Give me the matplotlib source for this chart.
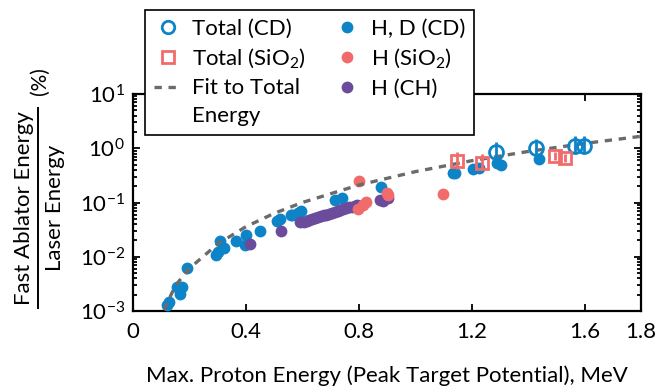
import matplotlib.pyplot as plt
import matplotlib.lines as mlines
from matplotlib.ticker import FixedLocator, LogLocator, NullFormatter
import numpy as np

plt.rcParams['font.family'] = ['Lato', 'DejaVu Sans']
plt.rcParams['mathtext.fontset'] = 'custom'
plt.rcParams['mathtext.rm'] = 'Lato'
plt.rcParams['mathtext.it'] = 'Lato:italic'
plt.rcParams['mathtext.bf'] = 'Lato:bold'

# H, D (CD) - filled blue
hd_cd_x = [0.122, 0.128, 0.155, 0.172, 0.166, 0.19, 0.294, 0.308, 0.323, 0.30, 0.365, 0.396,
           0.40, 0.45, 0.509, 0.52, 0.559, 0.562, 0.585, 0.597, 0.715, 0.739, 0.88, 1.134,
           1.14, 1.205, 1.226, 1.29, 1.305, 1.438]
hd_cd_y = [1.3e-3, 1.48e-3, 2.75e-3, 2.8e-3, 2.05e-3, 6.3e-3, 0.011, 0.0198, 0.0147, 0.012,
           0.0198, 0.0165, 0.025, 0.030, 0.046, 0.049, 0.059, 0.059, 0.065, 0.070, 0.111,
           0.119, 0.19, 0.345, 0.35, 0.41, 0.43, 0.53, 0.49, 0.63]

# H (SiO2) - filled pink
h_sio2_x = [0.80, 0.798, 0.825, 0.815, 0.90, 0.905, 1.098]
h_sio2_y = [0.25, 0.075, 0.104, 0.09, 0.148, 0.135, 0.142]

# H (CH) - filled purple
h_ch_x = [0.414, 0.526, 0.591, 0.605, 0.615, 0.625, 0.635, 0.645, 0.655, 0.665, 0.675, 0.685,
          0.695, 0.705, 0.715, 0.725, 0.735, 0.745, 0.755, 0.765, 0.775, 0.785, 0.792,
          0.874, 0.885, 0.904]
h_ch_y = [0.017, 0.030, 0.043, 0.044, 0.046, 0.048, 0.050, 0.052, 0.054, 0.056, 0.058, 0.060,
          0.062, 0.065, 0.067, 0.070, 0.072, 0.075, 0.078, 0.081, 0.084, 0.087, 0.090,
          0.111, 0.105, 0.119]

# Total (CD) - open blue circles with error bars
tot_cd_x = [1.285, 1.427, 1.565, 1.597]
tot_cd_y = [0.84, 1.0, 1.11, 1.11]
tot_cd_lo = [0.60, 0.72, 0.80, 0.80]
tot_cd_hi = [1.30, 1.50, 1.65, 1.65]

# Total (SiO2) - open pink squares with error bars
tot_sio2_x = [1.148, 1.238, 1.494, 1.529]
tot_sio2_y = [0.57, 0.53, 0.72, 0.67]
tot_sio2_lo = [0.42, 0.40, 0.60, 0.56]
tot_sio2_hi = [0.85, 0.78, 0.85, 0.80]

# Fit to total energy
fit_x = [0.11, 0.15, 0.20, 0.30, 0.40, 0.50, 0.60, 0.80, 1.00, 1.20, 1.40, 1.60, 1.80]
fit_y = [1.05e-3, 2.93e-3, 6.1e-3, 0.0172, 0.0358, 0.063, 0.10, 0.21, 0.37, 0.589, 0.872,
         1.227, 1.66]

x_ticks = [0, 0.4, 0.8, 1.2, 1.6, 1.8]
x_ticklabels = ["0", "0.4", "0.8", "1.2", "1.6", "1.8"]

blue = "#0d84c8"
pink = "#f26b6b"
purple = "#6a4b9c"
grey = "#6b6b6b"

fig = plt.figure(figsize=(6.67, 3.9), dpi=100)
ax = fig.add_axes([133 / 667, 1 - 311 / 390, 508 / 667, 217 / 390])

ax.plot(fit_x, fit_y, linestyle=(0, (2.2, 2.0)), color=grey, linewidth=2.4, zorder=5)

ms = 8.5
ax.plot(hd_cd_x, hd_cd_y, 'o', color=blue, markersize=ms, markeredgewidth=0, zorder=3)
ax.plot(h_ch_x, h_ch_y, 'o', color=purple, markersize=ms, markeredgewidth=0, zorder=3)
ax.plot(h_sio2_x, h_sio2_y, 'o', color=pink, markersize=ms, markeredgewidth=0, zorder=3)

# error bars
cd_y = np.array(tot_cd_y)
ax.errorbar(tot_cd_x, tot_cd_y, yerr=[cd_y - np.array(tot_cd_lo), np.array(tot_cd_hi) - cd_y],
            fmt='o', mfc='none', mec=blue, ecolor=blue, markersize=10, mew=2.0,
            elinewidth=2.0, capsize=0, zorder=6)
s_y = np.array(tot_sio2_y)
ax.errorbar(tot_sio2_x, tot_sio2_y, yerr=[s_y - np.array(tot_sio2_lo), np.array(tot_sio2_hi) - s_y],
            fmt='s', mfc='none', mec=pink, ecolor=pink, markersize=8.5, mew=2.0,
            elinewidth=2.0, capsize=0, zorder=6)

ax.set_yscale('log')
ax.set_xlim(0, 1.8)
ax.set_ylim(1e-3, 10)
ax.set_xticks(x_ticks)
ax.set_xticklabels(x_ticklabels)
ax.yaxis.set_major_locator(FixedLocator([1e-3, 1e-2, 1e-1, 1, 10]))
ax.set_yticklabels([r"$10^{-3}$", r"$10^{-2}$", r"$10^{-1}$", r"$10^{0}$", r"$10^{1}$"])
ax.yaxis.set_minor_locator(LogLocator(base=10, subs=np.arange(2, 10), numticks=20))
ax.yaxis.set_minor_formatter(NullFormatter())
ax.tick_params(which='both', direction='in', top=True, right=True, width=1.3)
ax.tick_params(which='major', length=5, labelsize=16)
ax.tick_params(which='minor', length=3)
ax.tick_params(axis='x', pad=8)
ax.tick_params(axis='y', pad=6)
for s in ax.spines.values():
    s.set_linewidth(1.6)

ax.set_xlabel("Max. Proton Energy (Peak Target Potential), MeV", fontsize=16)
ax.xaxis.set_label_coords(0.5, -0.25)

# fraction-style y label
fig.text(24 / 667, 1 - 208 / 390, "Fast Ablator Energy", rotation=90, ha='center', va='center', fontsize=16)
fig.text(55 / 667, 1 - 208 / 390, "Laser Energy", rotation=90, ha='center', va='center', fontsize=16)
fig.add_artist(mlines.Line2D([38 / 667, 38 / 667], [1 - 308 / 390, 1 - 108 / 390],
                             color='black', linewidth=1.4))
fig.text(40 / 667, 1 - 81 / 390, "(%)", rotation=90, ha='center', va='center', fontsize=15)

# legend
h_cd = mlines.Line2D([], [], marker='o', linestyle='none', mfc='none', mec=blue, mew=2.0, markersize=9)
h_s = mlines.Line2D([], [], marker='s', linestyle='none', mfc='none', mec=pink, mew=2.0, markersize=8.5)
h_fit = mlines.Line2D([], [], linestyle=(0, (2.2, 2.0)), color=grey, linewidth=2.4)
h_blank = mlines.Line2D([], [], linestyle='none')
h_hd = mlines.Line2D([], [], marker='o', linestyle='none', color=blue, markersize=8.5, mew=0)
h_hs = mlines.Line2D([], [], marker='o', linestyle='none', color=pink, markersize=8.5, mew=0)
h_ch = mlines.Line2D([], [], marker='o', linestyle='none', color=purple, markersize=8.5, mew=0)
handles = [h_cd, h_s, h_fit, h_blank, h_hd, h_hs, h_ch]
labels = ["Total (CD)", r"Total (SiO$_2$)", "Fit to Total", "Energy", "H, D (CD)", r"H (SiO$_2$)", "H (CH)"]
leg = ax.legend(handles, labels, ncol=2, loc='upper left', bbox_to_anchor=(145 / 667, 1 - 10 / 390),
                bbox_transform=fig.transFigure, borderaxespad=0, fontsize=16, frameon=True,
                fancybox=False, framealpha=1, edgecolor='black', handlelength=1.27,
                handletextpad=0.45, columnspacing=1.2, labelspacing=0.36, borderpad=0.4)
leg.get_frame().set_linewidth(1.2)
leg.set_zorder(10)

fig.savefig("out.png", dpi=100)
